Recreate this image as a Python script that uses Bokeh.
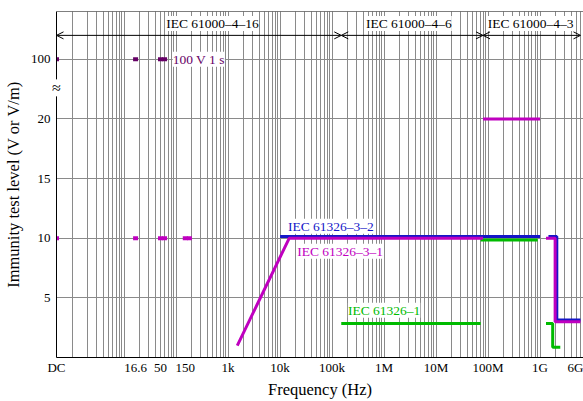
from bokeh.plotting import figure
from bokeh.models import FixedTicker, ColumnDataSource, Arrow, OpenHead, Span
from bokeh.transform import dodge
from bokeh.core.properties import value
from bokeh.embed import file_html
from bokeh.resources import INLINE

FONT = "Liberation Serif"

# ---- axes -------------------------------------------------------------
x_tick_vals = [0.5, 16.6, 50, 150, 1e3, 1e4, 1e5, 1e6, 1e7, 1e8, 1e9, 6e9]
x_tick_labels = ["DC", "16.6", "50", "150", "1k", "10k", "100k", "1M", "10M", "100M", "1G", "6G"]
y_tick_vals = [5, 10, 15, 20, 25]
y_tick_labels = ["5", "10", "15", "20", "100"]
y_break_pos = 22.6          # "≈" axis break
x_dc = 0.5                  # where DC is drawn

# ---- IEC 61000-4-16 spot frequencies ----------------------------------
pulse_freq = [0.5, 16.6, 50, 60]          # 100 V for 1 s
pulse_pos = [25, 25, 25, 25]              # axis position of "100"
cont_freq = [0.5, 16.6, 50, 60, 150, 180] # 10 V continuous
cont_level = [10, 10, 10, 10, 10, 10]
pulse_text = ["100 V 1 s"]
pulse_text_f = [273]
pulse_text_v = [25]

# ---- IEC 61326-3-1 (magenta) -----------------------------------------
m1_f = [1.5e3, 15e3, 80e6]
m1_v = [1, 10, 10]
m2_f = [1.3e9, 1.95e9, 1.95e9, 6e9]
m2_v = [10, 10, 3, 3]
mrf_f = [80e6, 1e9]
mrf_v = [20, 20]

# ---- IEC 61326-3-2 (blue) ---------------------------------------------
b1_f = [10e3, 1e9]
b1_v = [10, 10]
b2_f = [1.45e9, 2.1e9, 2.1e9, 6e9]
b2_v = [10, 10, 3, 3]

# ---- IEC 61326-1 (green) ----------------------------------------------
g1_f = [150e3, 72e6]
g1_v = [3, 3]
g2_f = [72e6, 0.9e9]
g2_v = [10, 10]
g3_f = [1.3e9, 1.75e9, 1.75e9, 2.45e9]
g3_v = [3, 3, 1, 1]

# ---- series labels ----------------------------------------------------
lab_text = ["IEC 61326–3–2", "IEC 61326–3–1", "IEC 61326–1"]
lab_f = [95e3, 143e3, 1.0e6]
lab_v = [11.0, 8.9, 3.95]

# ---- basic standards ranges ------------------------------------------
std_names = ["IEC 61000–4–16", "IEC 61000–4–6", "IEC 61000–4–3"]
std_start = [0.5, 150e3, 80e6]
std_end = [150e3, 80e6, 6e9]
std_label_f = [500, 3e6, 6.6e8]
std_level = 27
std_label_level = 28

MAGENTA = "#BF00BF"
BLUE = "#1515C8"
GREEN = "#00BB00"
PURPLE = "#660066"
GRID = "#8a8a8a"
OFF = 0.15

p = figure(width=583, height=401, x_axis_type="log",
           x_range=(0.5, 6.85e9), y_range=(0, 29),
           output_backend="svg", toolbar_location=None, title=None,
           min_border_left=56, min_border_right=0, min_border_top=11,
           min_border_bottom=42)
p.outline_line_color = None
p.background_fill_color = "white"
p.border_fill_color = "white"

# grids
grid_f = [k * 10.0 ** d for d in range(0, 10) for k in range(1, 10)]
p.xgrid.ticker = FixedTicker(ticks=grid_f)
p.ygrid.ticker = FixedTicker(ticks=y_tick_vals)
for g in (p.xgrid, p.ygrid):
    g.grid_line_color = GRID
    g.grid_line_width = 1

# axes
p.xaxis.ticker = FixedTicker(ticks=x_tick_vals)
p.xaxis.major_label_overrides = {v: t for v, t in zip(x_tick_vals, x_tick_labels)}
p.yaxis.ticker = FixedTicker(ticks=y_tick_vals)
p.yaxis.major_label_overrides = {v: t for v, t in zip(y_tick_vals, y_tick_labels)}
p.xaxis.axis_label = "Frequency (Hz)"
p.yaxis.axis_label = "Immunity test level (V or V/m)"
for ax in (p.xaxis, p.yaxis):
    ax.axis_line_color = "black"
    ax.axis_line_width = 1
    ax.major_tick_out = 0
    ax.major_tick_in = 0
    ax.minor_tick_out = 0
    ax.minor_tick_in = 0
    ax.major_label_text_font = FONT
    ax.major_label_text_font_size = "13px"
    ax.major_label_text_color = "black"
    ax.axis_label_text_font = FONT
    ax.axis_label_text_font_size = "16.5px"
    ax.axis_label_text_font_style = "normal"
    ax.axis_label_text_color = "black"
p.xaxis.major_label_standoff = 2
p.xaxis.axis_label_standoff = 2
p.yaxis.major_label_standoff = 6
p.yaxis.axis_label_standoff = 5

p.add_layout(Span(location=29, dimension="width", line_color="black", line_width=1))

# standards arrows
arr_src = ColumnDataSource(dict(x0=std_start, x1=std_end, y=[std_level] * 3))
p.add_layout(Arrow(source=arr_src, x_start="x0", y_start="y", x_end="x1", y_end="y",
                   line_color="black", line_width=1,
                   start=OpenHead(size=7, line_width=1, line_color="black"),
                   end=OpenHead(size=7, line_width=1, line_color="black")))
p.text(x=std_label_f, y=[std_label_level] * 3, text=std_names,
       text_font=value(FONT), text_font_size="13.5px", text_color="black",
       text_align="center", text_baseline="middle", background_fill_color="white")

# lines
def ln(f, v, color, off=0.0):
    src = ColumnDataSource(dict(f=f, v=v))
    p.line(x="f", y=dodge("v", off), source=src, line_color=color, line_width=3)

ln(b1_f, b1_v, BLUE, OFF)
ln(b2_f, b2_v, BLUE, OFF)
ln(g1_f, g1_v, GREEN, -OFF)
ln(g2_f, g2_v, GREEN, -OFF)
ln(g3_f, g3_v, GREEN, -OFF)
ln(m1_f, m1_v, MAGENTA)
ln(m2_f, m2_v, MAGENTA)
ln(mrf_f, mrf_v, MAGENTA)

# spot frequency marks
p.rect(x=cont_freq, y=cont_level, width=5, height=4, width_units="screen",
       height_units="screen", fill_color=MAGENTA, line_color=None)
p.rect(x=pulse_freq, y=pulse_pos, width=5, height=4, width_units="screen",
       height_units="screen", fill_color=PURPLE, line_color=None)
p.text(x=pulse_text_f, y=pulse_text_v, text=pulse_text, text_font=value(FONT),
       text_font_size="13.5px", text_color=PURPLE, text_align="center",
       text_baseline="middle", background_fill_color="white")

# series labels
p.text(x=lab_f, y=lab_v, text=lab_text, text_font=value(FONT), text_font_size="13.5px",
       text_color=[BLUE, MAGENTA, GREEN], text_align="center", text_baseline="middle",
       background_fill_color="white")

# axis break symbol
brk = p.text(x=[x_dc], y=[y_break_pos], text=["≈"], text_font=value(FONT),
             text_font_size="16px", text_color="black", text_align="center",
             text_baseline="middle", background_fill_color="white")
brk.level = "annotation"

open("out.html", "w").write(file_html(p, INLINE))
